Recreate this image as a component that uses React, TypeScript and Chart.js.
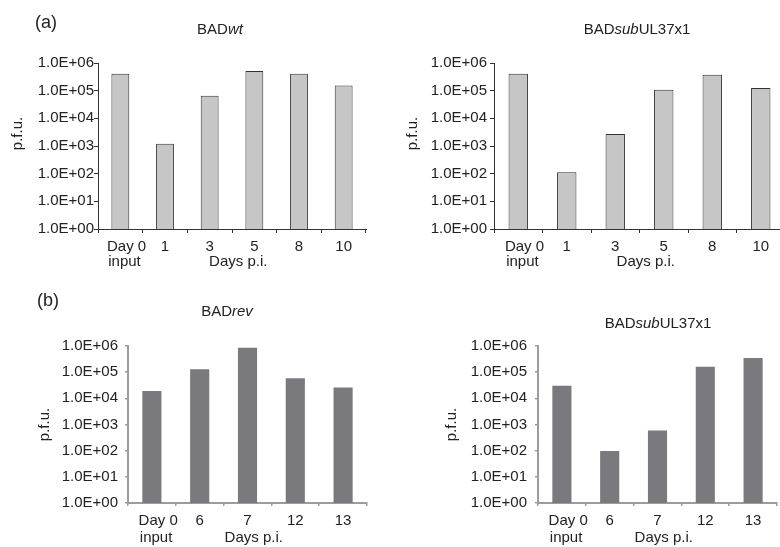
import React, { useEffect, useRef } from "react";
import { Chart, registerables } from "chart.js";

Chart.register(...registerables);

const FONT = "'Liberation Sans', Arial, Helvetica, sans-serif";
const TEXT_COLOR = "#222222";

// ---- data ----
const yTickValues = [1, 10, 100, 1000, 10000, 100000, 1000000];
const yTickLabels = ["1.0E+00", "1.0E+01", "1.0E+02", "1.0E+03", "1.0E+04", "1.0E+05", "1.0E+06"];

// leading spaces only nudge the two-line first label so that both lines start at the same x
const firstDayLabel = ["   Day 0", "  input"];
const topDays: (string | string[])[] = [firstDayLabel, "1", "3", "5", "8", "10"];
const bottomDays: (string | string[])[] = [firstDayLabel, "6", "7", "12", "13"];

const badWtPfu = [410000, 1200, 66000, 510000, 410000, 155000];
const badSubTopPfu = [410000, 112, 2700, 108000, 380000, 125000];
const badRevPfu = [19000, 129000, 860000, 59000, 26000];
const badSubBottomPfu = [30000, 98, 590, 160000, 350000];

const xTitleText = "Days p.i.";
const yTitleText = "p.f.u.";

type PanelProps = {
  left: number;
  top: number;
  width: number;
  height: number;
  labels: (string | string[])[];
  values: number[];
  padTop: number;
  padRight: number;
  yWidth: number;
  xHeight: number;
  tickLength: number;
  yPad: number;
  xPad: number;
  xLineHeight: number;
  xTitlePadBottom: number;
  yTitlePad: number;
  yTitleShift: string;
  xTitleShift: string;
  barColor: string;
  barBorder: string;
  barBorderWidth: number;
  axisColor: string;
  axisWidth: number;
  tickWidth: number;
};

function Panel(p: PanelProps) {
  const ref = useRef<HTMLCanvasElement | null>(null);
  useEffect(() => {
    if (!ref.current) return;
    const chart = new Chart(ref.current, {
      type: "bar",
      data: {
        labels: p.labels as any,
        datasets: [
          {
            data: p.values,
            backgroundColor: p.barColor,
            borderColor: p.barBorder,
            borderWidth: p.barBorderWidth,
            barPercentage: 0.4,
            categoryPercentage: 1.0,
          },
        ],
      },
      options: {
        responsive: false,
        animation: false,
        devicePixelRatio: 1,
        layout: { padding: { left: 0, top: p.padTop, right: p.padRight, bottom: 0 } },
        plugins: {
          legend: { display: false },
          tooltip: { enabled: false },
          title: { display: false },
        },
        scales: {
          x: {
            type: "category",
            offset: true,
            grid: {
              display: true,
              offset: true,
              drawOnChartArea: false,
              drawTicks: true,
              tickLength: p.tickLength,
              color: p.axisColor,
              lineWidth: p.tickWidth,
            },
            border: { display: true, color: p.axisColor, width: p.axisWidth },
            ticks: {
              autoSkip: false,
              maxRotation: 0,
              minRotation: 0,
              padding: p.xPad,
              color: TEXT_COLOR,
              font: { family: FONT, size: 15, lineHeight: p.xLineHeight / 15 },
            },
            title: {
              display: true,
              text: p.xTitleShift + xTitleText,
              color: TEXT_COLOR,
              font: { family: FONT, size: 15, lineHeight: p.xLineHeight / 15 },
              padding: { top: 0, bottom: p.xTitlePadBottom },
            },
            afterFit: (scale: any) => {
              scale.height = p.xHeight;
            },
          },
          y: {
            type: "logarithmic",
            min: 1,
            max: 1000000,
            grid: {
              display: true,
              drawOnChartArea: false,
              drawTicks: true,
              tickLength: p.tickLength,
              color: p.axisColor,
              lineWidth: p.tickWidth,
            },
            border: { display: true, color: p.axisColor, width: p.axisWidth },
            afterBuildTicks: (scale: any) => {
              scale.ticks = yTickValues.map((v) => ({ value: v }));
            },
            ticks: {
              padding: p.yPad,
              color: TEXT_COLOR,
              font: { family: FONT, size: 15 },
              callback: (_v: any, i: number) => yTickLabels[i],
            },
            title: {
              display: true,
              text: p.yTitleShift + yTitleText,
              color: TEXT_COLOR,
              font: { family: FONT, size: 15, lineHeight: 1.2 },
              padding: { top: p.yTitlePad, bottom: 0 },
            },
            afterFit: (scale: any) => {
              scale.width = p.yWidth;
            },
          },
        },
      } as any,
    });
    return () => chart.destroy();
  }, []);
  return (
    <canvas
      ref={ref}
      width={p.width}
      height={p.height}
      style={{ position: "absolute", left: p.left, top: p.top, width: p.width, height: p.height }}
    />
  );
}

function Label(props: { x: number; y: number; size: number; children: React.ReactNode }) {
  return (
    <div
      style={{
        position: "absolute",
        left: props.x,
        top: props.y,
        transform: "translate(-50%, -50%)",
        fontSize: props.size,
        lineHeight: `${props.size}px`,
        whiteSpace: "nowrap",
        color: TEXT_COLOR,
        fontFamily: FONT,
      }}
    >
      {props.children}
    </div>
  );
}

const topStyle = {
  barColor: "#c6c6c6",
  barBorder: "#333333",
  barBorderWidth: 1,
  axisColor: "#333333",
  axisWidth: 1,
  tickWidth: 1,
  tickLength: 4,
  xPad: 6,
  xLineHeight: 15,
  xTitlePadBottom: 6,
  yTitleShift: "      ",
  xTitleShift: "   ",
  padTop: 63,
  xHeight: 46,
};

const bottomStyle = {
  barColor: "#7a7a7e",
  barBorder: "#7a7a7e",
  barBorderWidth: 0,
  axisColor: "#9c9c9c",
  axisWidth: 2,
  tickWidth: 1.5,
  tickLength: 3,
  xPad: 6,
  xLineHeight: 17,
  xTitlePadBottom: 1,
  yTitleShift: "",
  xTitleShift: "   ",
  padTop: 66,
  xHeight: 44,
};

export default function App() {
  return (
    <div
      style={{
        position: "fixed",
        left: 0,
        top: 0,
        width: 780,
        height: 547,
        overflow: "hidden",
        background: "#ffffff",
        fontFamily: FONT,
      }}
    >
      <Panel
        {...topStyle}
        left={0}
        top={0}
        width={390}
        height={275}
        labels={topDays}
        values={badWtPfu}
        padRight={24}
        yWidth={98}
        yPad={0}
        yTitlePad={9}
      />
      <Panel
        {...topStyle}
        left={390}
        top={0}
        width={400}
        height={275}
        labels={topDays}
        values={badSubTopPfu}
        padRight={5}
        yWidth={104}
        yPad={3}
        yTitlePad={14}
      />
      <Panel
        {...bottomStyle}
        left={0}
        top={280}
        width={390}
        height={267}
        labels={bottomDays}
        values={badRevPfu}
        padRight={23}
        yWidth={128}
        yPad={7}
        yTitlePad={36}
      />
      <Panel
        {...bottomStyle}
        left={390}
        top={280}
        width={390}
        height={267}
        labels={bottomDays}
        values={badSubBottomPfu}
        padRight={3}
        yWidth={148}
        yPad={8}
        yTitlePad={53}
      />
      <Label x={46} y={22} size={18}>(a)</Label>
      <Label x={48} y={300} size={18}>(b)</Label>
      <Label x={220} y={28} size={15}>
        BAD<i>wt</i>
      </Label>
      <Label x={637} y={28} size={15}>
        BAD<i>sub</i>UL37x1
      </Label>
      <Label x={227} y={310} size={15}>
        BAD<i>rev</i>
      </Label>
      <Label x={658} y={322} size={15}>
        BAD<i>sub</i>UL37x1
      </Label>
    </div>
  );
}
